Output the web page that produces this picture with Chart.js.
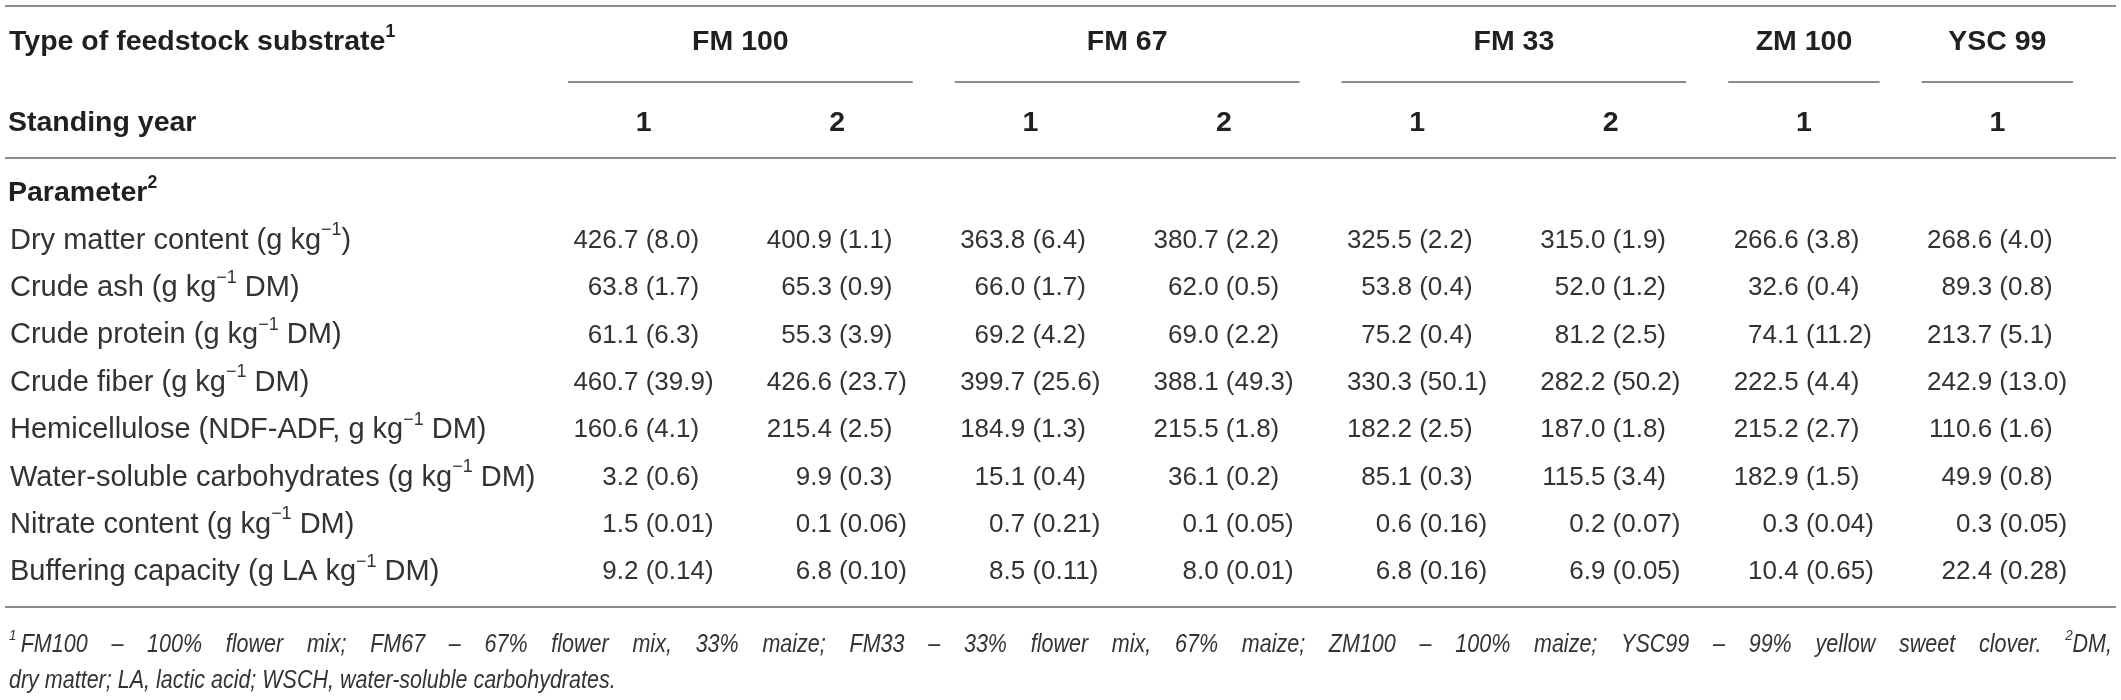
<!DOCTYPE html>
<html>
<head>
<meta charset="utf-8">
<script src="https://cdn.jsdelivr.net/npm/chart.js@4.4.1/dist/chart.umd.min.js"></script>
<style>
  html, body { margin: 0; padding: 0; background: #fff; }
  canvas { display: block; }
</style>
</head>
<body>
<canvas id="table" width="2121" height="700"></canvas>
<script>
// header rows
const groups = ["FM 100", "FM 67", "FM 33", "ZM 100", "YSC 99"];
const groupSpans = [2, 2, 2, 1, 1];
const years = ["1", "2", "1", "2", "1", "2", "1", "1"];
const columnKeys = ["FM100-1", "FM100-2", "FM67-1", "FM67-2", "FM33-1", "FM33-2", "ZM100-1", "YSC99-1"];

// row labels, ^{..} marks a superscript
const parameters = [
  "Dry matter content (g kg^{\u22121})",
  "Crude ash (g kg^{\u22121} DM)",
  "Crude protein (g kg^{\u22121} DM)",
  "Crude fiber (g kg^{\u22121} DM)",
  "Hemicellulose (NDF-ADF, g kg^{\u22121} DM)",
  "Water-soluble carbohydrates (g kg^{\u22121} DM)",
  "Nitrate content (g kg^{\u22121} DM)",
  "Buffering capacity (g LA kg^{\u22121} DM)"
];
const sdDigits = [1, 1, 1, 1, 1, 1, 2, 2];

// means and standard deviations, one array per column
const fm100y1 = [426.7, 63.8, 61.1, 460.7, 160.6, 3.2, 1.5, 9.2];
const fm100y1sd = [8.0, 1.7, 6.3, 39.9, 4.1, 0.6, 0.01, 0.14];
const fm100y2 = [400.9, 65.3, 55.3, 426.6, 215.4, 9.9, 0.1, 6.8];
const fm100y2sd = [1.1, 0.9, 3.9, 23.7, 2.5, 0.3, 0.06, 0.10];
const fm67y1 = [363.8, 66.0, 69.2, 399.7, 184.9, 15.1, 0.7, 8.5];
const fm67y1sd = [6.4, 1.7, 4.2, 25.6, 1.3, 0.4, 0.21, 0.11];
const fm67y2 = [380.7, 62.0, 69.0, 388.1, 215.5, 36.1, 0.1, 8.0];
const fm67y2sd = [2.2, 0.5, 2.2, 49.3, 1.8, 0.2, 0.05, 0.01];
const fm33y1 = [325.5, 53.8, 75.2, 330.3, 182.2, 85.1, 0.6, 6.8];
const fm33y1sd = [2.2, 0.4, 0.4, 50.1, 2.5, 0.3, 0.16, 0.16];
const fm33y2 = [315.0, 52.0, 81.2, 282.2, 187.0, 115.5, 0.2, 6.9];
const fm33y2sd = [1.9, 1.2, 2.5, 50.2, 1.8, 3.4, 0.07, 0.05];
const zm100y1 = [266.6, 32.6, 74.1, 222.5, 215.2, 182.9, 0.3, 10.4];
const zm100y1sd = [3.8, 0.4, 11.2, 4.4, 2.7, 1.5, 0.04, 0.65];
const ysc99y1 = [268.6, 89.3, 213.7, 242.9, 110.6, 49.9, 0.3, 22.4];
const ysc99y1sd = [4.0, 0.8, 5.1, 13.0, 1.6, 0.8, 0.05, 0.28];

const means = [fm100y1, fm100y2, fm67y1, fm67y2, fm33y1, fm33y2, zm100y1, ysc99y1];
const sds = [fm100y1sd, fm100y2sd, fm67y1sd, fm67y2sd, fm33y1sd, fm33y2sd, zm100y1sd, ysc99y1sd];

const footnote1 = "^{1}\u2009FM100 \u2013 100% flower mix; FM67 \u2013 67% flower mix, 33% maize; FM33 \u2013 33% flower mix, 67% maize; ZM100 \u2013 100% maize; YSC99 \u2013 99% yellow sweet clover. ^{2}DM,";
const footnote2 = "dry matter; LA, lactic acid; WSCH, water-soluble carbohydrates.";

const FONT = "'Liberation Sans', Arial, sans-serif";
const DARK = "#231f20";
const BODY = "#333333";
const RULE = "#8c8c8c";

function parts(text) {
  const out = [];
  const re = /\^\{([^}]*)\}/g;
  let last = 0, m;
  while ((m = re.exec(text))) {
    if (m.index > last) out.push({ t: text.slice(last, m.index), sup: false });
    out.push({ t: m[1], sup: true });
    last = re.lastIndex;
  }
  if (last < text.length) out.push({ t: text.slice(last), sup: false });
  return out;
}

function fontFor(o, sup) {
  const size = sup ? o.size * 0.62 : o.size;
  return (o.style || "normal") + " " + (o.weight || "normal") + " " + size + "px " + FONT;
}

// drawn width, including any horizontal squeeze
function richWidth(ctx, text, o) {
  let w = 0;
  parts(text).forEach(p => { ctx.font = fontFor(o, p.sup); w += ctx.measureText(p.t).width; });
  return w * (o.squeeze || 1);
}

function drawRich(ctx, text, x, y, o) {
  const k = o.squeeze || 1;
  const w = richWidth(ctx, text, o);
  let start = x;
  if (o.align === "center") start = x - w / 2;
  if (o.align === "right") start = x - w;
  ctx.save();
  ctx.translate(start, y);
  ctx.scale(k, 1);
  ctx.fillStyle = o.color;
  ctx.textAlign = "left";
  ctx.textBaseline = "middle";
  let cx = 0;
  parts(text).forEach(p => {
    ctx.font = fontFor(o, p.sup);
    ctx.fillText(p.t, cx, p.sup ? -o.size * 0.36 : 0);
    cx += ctx.measureText(p.t).width;
  });
  ctx.restore();
  return w;
}

// spread the words of a line over the full width
function drawJustified(ctx, text, x1, x2, y, o) {
  const words = text.split(" ");
  const widths = words.map(w => richWidth(ctx, w, o));
  const total = widths.reduce((a, b) => a + b, 0);
  const gap = (x2 - x1 - total) / (words.length - 1);
  let cx = x1;
  words.forEach((w, i) => {
    drawRich(ctx, w, cx, y, o);
    cx += widths[i] + gap;
  });
}

function rule(ctx, x1, x2, y) {
  ctx.beginPath();
  ctx.moveTo(x1, y);
  ctx.lineTo(x2, y);
  ctx.stroke();
}

const tablePlugin = {
  id: "tableText",
  afterDatasetsDraw(chart) {
    const ctx = chart.ctx;
    const xs = chart.scales.x;
    const ys = chart.scales.y;
    const step = xs.getPixelForValue(1) - xs.getPixelForValue(0);
    const head = { size: 28.5, weight: "bold", color: DARK };
    const rowY = { group: 42, groupRule: 82, year: 123, midRule: 158, param: 193, topRule: 6, bottomRule: 607, note1: 645, note2: 681 };

    ctx.save();
    ctx.strokeStyle = RULE;
    ctx.lineWidth = 2;
    rule(ctx, 5, 2116, rowY.topRule);
    rule(ctx, 5, 2116, rowY.midRule);
    rule(ctx, 5, 2116, rowY.bottomRule);

    // spanning group headers with their underlines
    let col = 0;
    groups.forEach((g, i) => {
      const first = xs.getPixelForValue(col);
      const last = xs.getPixelForValue(col + groupSpans[i] - 1);
      drawRich(ctx, g, (first + last) / 2, rowY.group, Object.assign({ align: "center" }, head));
      rule(ctx, first - step / 2 + 21, last + step / 2 - 21, rowY.groupRule);
      col += groupSpans[i];
    });
    years.forEach((y, i) => {
      drawRich(ctx, y, xs.getPixelForValue(i), rowY.year, Object.assign({ align: "center" }, head));
    });

    drawRich(ctx, "Type of feedstock substrate^{1}", 9, rowY.group, head);
    drawRich(ctx, "Standing year", 8, rowY.year, head);
    drawRich(ctx, "Parameter^{2}", 8, rowY.param, head);

    // row labels
    parameters.forEach((p, r) => {
      drawRich(ctx, p, 10, ys.getPixelForValue(r), { size: 29, color: BODY });
    });

    // cells: mean before the gap, sd in brackets after it
    chart.data.datasets.forEach((ds, c) => {
      const meta = chart.getDatasetMeta(c);
      meta.data.forEach((pt, r) => {
        const raw = ds.data[r];
        const o = { size: 26, color: BODY };
        drawRich(ctx, raw.mean.toFixed(1) + " ", pt.x + 2, pt.y, Object.assign({ align: "right" }, o));
        drawRich(ctx, "(" + raw.sd.toFixed(sdDigits[r]) + ")", pt.x + 2, pt.y, o);
      });
    });

    // footnotes in a narrow italic, first line justified
    const note = { size: 25, style: "italic", color: BODY, squeeze: 0.86 };
    drawJustified(ctx, footnote1, 9, 2112, rowY.note1, note);
    drawRich(ctx, footnote2, 9, rowY.note2, note);
    ctx.restore();
  }
};

new Chart(document.getElementById("table"), {
  type: "scatter",
  data: {
    datasets: columnKeys.map((key, c) => ({
      label: key,
      data: parameters.map((p, r) => ({ x: key, y: p, mean: means[c][r], sd: sds[c][r] })),
      pointRadius: 0,
      pointHoverRadius: 0,
    })),
  },
  options: {
    responsive: false,
    animation: false,
    devicePixelRatio: 1,
    events: [],
    layout: { padding: { left: 547, right: 27, top: 217, bottom: 104 } },
    scales: {
      x: { type: "category", labels: columnKeys, offset: true, display: false },
      y: { type: "category", labels: parameters, offset: true, display: false },
    },
    plugins: {
      legend: { display: false },
      tooltip: { enabled: false },
    },
  },
  plugins: [tablePlugin],
});
</script>
</body>
</html>
